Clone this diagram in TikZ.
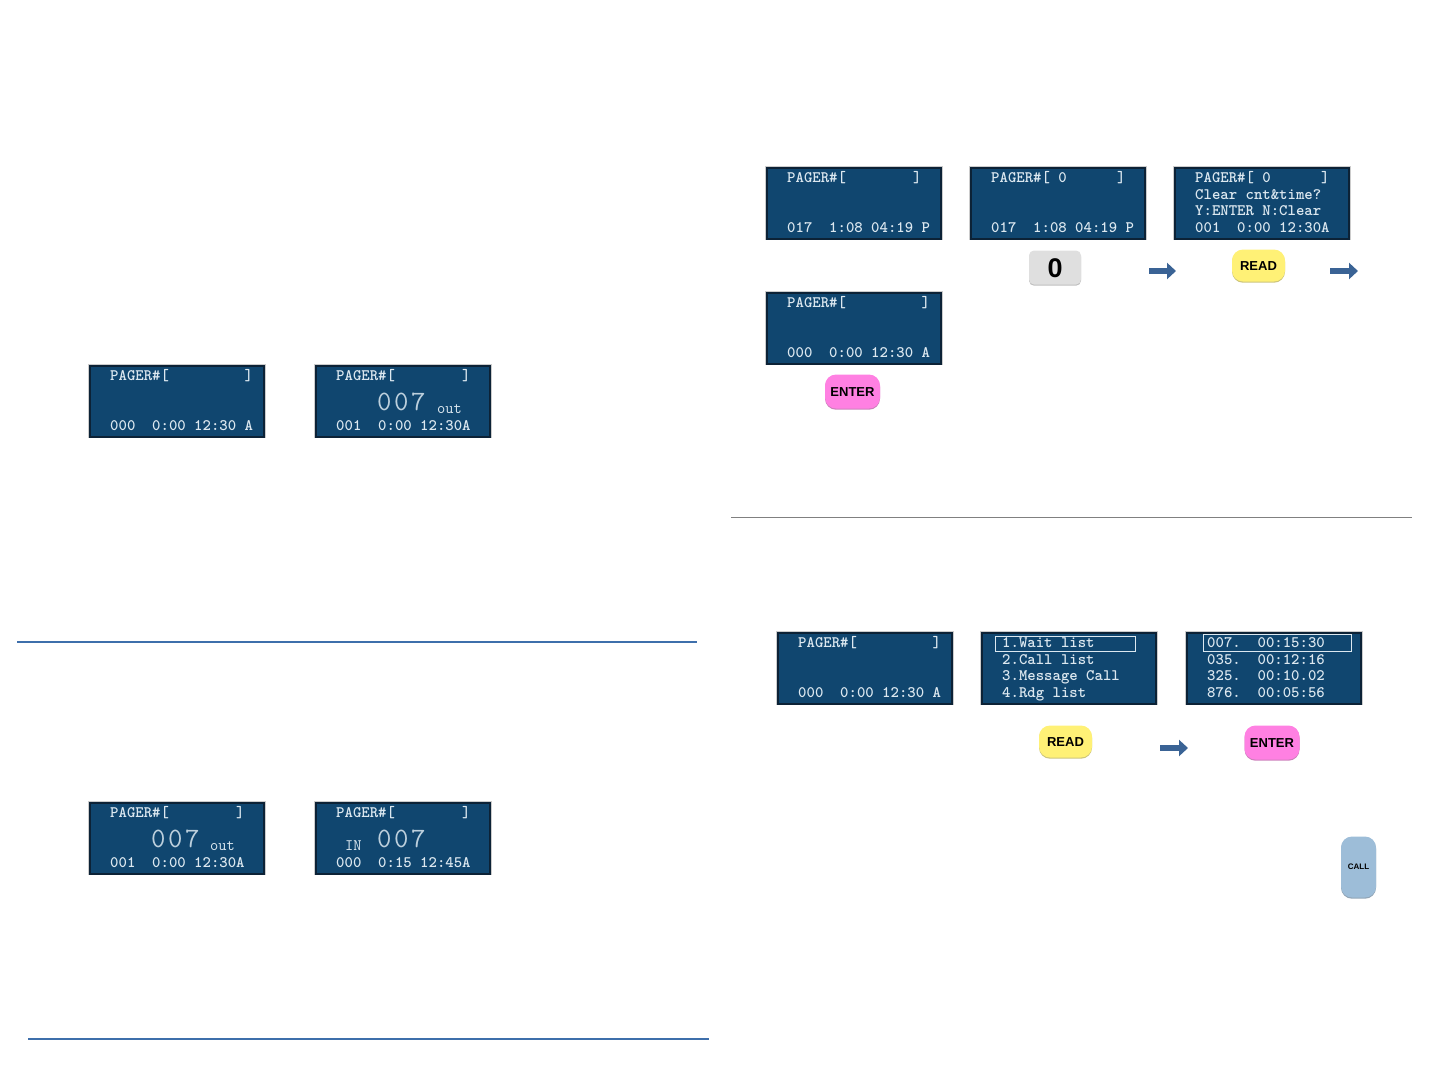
\documentclass[tikz,border=0pt]{standalone}
\usepackage{fontspec}
\setsansfont{Liberation Sans}
\usepackage{tikz}
\usetikzlibrary{arrows.meta}

\definecolor{lcdblue}{HTML}{10466F}
\definecolor{lcdedge}{HTML}{0C2236}
\definecolor{lcdtext}{HTML}{DCE8F0}
\definecolor{rowblue}{HTML}{3E6FAB}
\definecolor{pfeil}{HTML}{3A6395}
\definecolor{readgelb}{HTML}{FFF176}
\definecolor{enterrosa}{HTML}{FF80E2}
\definecolor{callblau}{HTML}{9DBDD8}

\newcommand{\nullsieben}{0\kern2.5pt 0\kern2.5pt 7}

\tikzset{
	lcd/.style={draw=lcdedge,line width=1.6pt,fill=lcdblue,minimum width=174.5pt,minimum height=71pt,anchor=north west,inner sep=0pt,xshift=-0.6pt,preaction={draw=gray!40,line width=3pt}},
	row/.style={anchor=west,inner sep=0pt,text height=11.5pt,text depth=1pt,text=lcdtext,font=\fontsize{16}{16}\ttfamily\bfseries},
	thinrow/.style={row,font=\fontsize{16}{16}\ttfamily},
	big/.style={anchor=west,inner sep=0pt,text=lcdtext!85!lcdblue,font=\fontsize{28}{28}\ttfamily},
	btn/.style={rounded corners=11pt,inner sep=0pt,text height=9.3pt,text depth=0pt,font=\fontsize{13}{13}\sffamily\bfseries},
	readbtn/.style={btn,fill=readgelb,minimum width=53pt,minimum height=32pt,preaction={fill=readgelb!60!gray,transform canvas={yshift=-1.2pt}}},
	enterbtn/.style={btn,fill=enterrosa,minimum width=55pt,minimum height=34pt,preaction={fill=enterrosa!60!gray,transform canvas={yshift=-1.2pt}}},
	pick/.style={draw=lcdtext,line width=1.2pt,anchor=north west,inner sep=0pt},
	pfeilline/.style={draw=pfeil,line width=6.5pt,-{Triangle[length=9pt,width=16pt]}},
}

\begin{document}
\begin{tikzpicture}[x=1pt,y=-1pt]
	\useasboundingbox (0,0) rectangle (1440,1080);

	% left page
	\node[lcd] (a1) at (89.5,365) {};
	\node[row] (a1p) at (110,375.5) {PAGER\#[~~~~~~~~~]};
	\node[row] (a1s) at (110,425.5) {000~~0:00~12:30~A};
	\node[lcd] (a2) at (315.5,365) {};
	\node[row] (a2p) at (336,375.5) {PAGER\#[~~~~~~~~]};
	\node[big] (a2n) at (377,402) {\nullsieben};
	\node[thinrow] (a2o) at (437,408.5) {out};
	\node[row] (a2s) at (336,425.5) {001~~0:00~12:30A};

	\coordinate (l1a) at (17,642);
	\coordinate (l1b) at (697,642);
	\draw[rowblue,line width=1.4pt] (l1a)--(l1b);

	\node[lcd] (b1) at (89.5,802) {};
	\node[row] (b1p) at (110,812.5) {PAGER\#[~~~~~~~~]};
	\node[big] (b1n) at (151,839) {\nullsieben};
	\node[thinrow] (b1o) at (210,845.5) {out};
	\node[row] (b1s) at (110,862.5) {001~~0:00~12:30A};
	\node[lcd] (b2) at (315.5,802) {};
	\node[row] (b2p) at (336,812.5) {PAGER\#[~~~~~~~~]};
	\node[thinrow] (b2i) at (345,845.5) {IN};
	\node[big] (b2n) at (377,839) {\nullsieben};
	\node[row] (b2s) at (336,862.5) {000~~0:15~12:45A};

	\coordinate (l2a) at (28,1039);
	\coordinate (l2b) at (709,1039);
	\draw[rowblue,line width=1.4pt] (l2a)--(l2b);

	% right page, top
	\node[lcd] (c1) at (766.5,167) {};
	\node[row] (c1p) at (787,177.5) {PAGER\#[~~~~~~~~]};
	\node[row] (c1s) at (787,227.5) {017~~1:08~04:19~P};
	\node[lcd] (c2) at (970.5,167) {};
	\node[row] (c2p) at (991,177.5) {PAGER\#[~0~~~~~~]};
	\node[row] (c2s) at (991,227.5) {017~~1:08~04:19~P};
	\node[lcd] (c3) at (1174.5,167) {};
	\node[row] (c3p) at (1195,177.5) {PAGER\#[~0~~~~~~]};
	\node[row] (c3a) at (1195,194.5) {Clear~cnt\&time?};
	\node[row] (c3b) at (1195,210.5) {Y:ENTER~N:Clear};
	\node[row] (c3s) at (1195,227.5) {001~~0:00~12:30A};
	\node[lcd] (c4) at (766.5,292) {};
	\node[row] (c4p) at (787,302.5) {PAGER\#[~~~~~~~~~]};
	\node[row] (c4s) at (787,352.5) {000~~0:00~12:30~A};

	\node[btn,fill=gray!25,minimum width=52pt,minimum height=34pt,rounded corners=5pt,text height=19pt,font=\fontsize{27}{27}\sffamily\bfseries,preaction={fill=gray!50,transform canvas={yshift=-1.2pt}}] (zero) at (1055,267.5) {0};
	\node[readbtn] (read1) at (1258.5,265.5) {READ};
	\node[enterbtn] (enter1) at (852.5,391.5) {ENTER};

	\coordinate (p1a) at (1149,271);
	\coordinate (p1b) at (1176,271);
	\draw[pfeilline] (p1a)--(p1b);
	\coordinate (p2a) at (1330,271);
	\coordinate (p2b) at (1358,271);
	\draw[pfeilline] (p2a)--(p2b);

	\coordinate (l3a) at (731,517.5);
	\coordinate (l3b) at (1412,517.5);
	\draw[gray,line width=1pt] (l3a)--(l3b);

	% right page, bottom
	\node[lcd] (d1) at (777.5,632) {};
	\node[row] (d1p) at (798,642.5) {PAGER\#[~~~~~~~~~]};
	\node[row] (d1s) at (798,692.5) {000~~0:00~12:30~A};
	\node[lcd] (d2) at (981.5,632) {};
	\node[pick,minimum width=140pt,minimum height=15pt] (d2k) at (995,635.5) {};
	\node[row] (d2a) at (1002,642.5) {1.Wait~list};
	\node[row] (d2b) at (1002,659.5) {2.Call~list};
	\node[row] (d2c) at (1002,675.5) {3.Message~Call};
	\node[row] (d2d) at (1002,692.5) {4.Rdg~list};
	\node[lcd] (d3) at (1186.5,632) {};
	\node[pick,minimum width=148pt,minimum height=17pt] (d3k) at (1203,633.5) {};
	\node[row] (d3a) at (1207,642.5) {007.~~00:15:30};
	\node[row] (d3b) at (1207,659.5) {035.~~00:12:16};
	\node[row] (d3c) at (1207,675.5) {325.~~00:10.02};
	\node[row] (d3d) at (1207,692.5) {876.~~00:05:56};

	\node[readbtn] (read2) at (1065.5,741.5) {READ};
	\node[enterbtn] (enter2) at (1272,742.5) {ENTER};
	\coordinate (p3a) at (1160,748);
	\coordinate (p3b) at (1188,748);
	\draw[pfeilline] (p3a)--(p3b);

	\node[btn,fill=callblau,minimum width=35pt,minimum height=61pt,text height=5.8pt,font=\fontsize{8}{8}\sffamily\bfseries,preaction={fill=callblau!60!gray,transform canvas={yshift=-1.2pt}}] (call) at (1358.5,867) {CALL};
\end{tikzpicture}
\end{document}
